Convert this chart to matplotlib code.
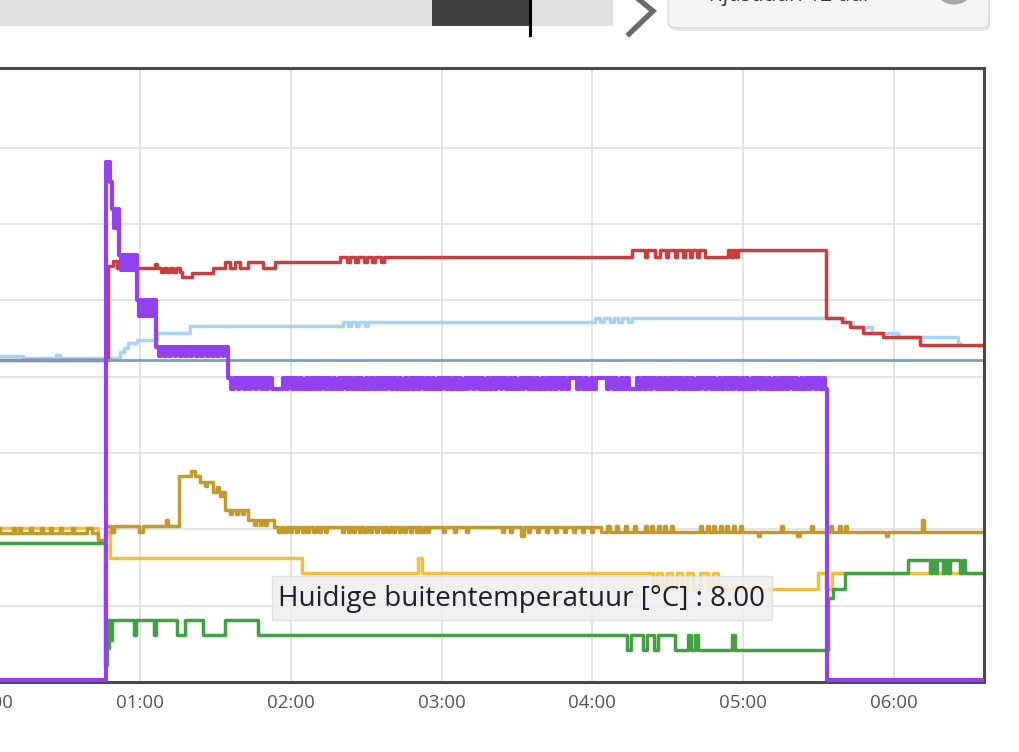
import matplotlib
matplotlib.use("Agg")
import matplotlib.pyplot as plt
from matplotlib.patches import Rectangle, FancyBboxPatch, Circle
from matplotlib.lines import Line2D

plt.rcParams['font.family'] = ['Open Sans', 'DejaVu Sans']

W, H = 1019, 752

# ---------------- data (x: minutes after 00:00, y: chart units, grid every 10) ----
tick_minutes = [0, 60, 120, 180, 240, 300, 360]
tick_labels = ["00:00", "01:00", "02:00", "03:00", "04:00", "05:00", "06:00"]
x_start, x_end = -11.6, 395.8

steel_t = [-12, 396]
steel_v = [42.2, 42.2]

red_t = [-12, 47.3, 49.3, 50.9, 76.7, 80.7, 89.1, 93.8, 95.8, 97.8, 99.8, 103.0, 109.0,
         113.7, 139.6, 255.8, 284.8, 294.0, 333.0, 339.4, 342.5, 347.7, 355.6, 370.4]
red_v = [42.2, 54.5, 55.2, 54.3, 53.1, 53.6, 54.3, 55.0, 54.3, 55.0, 54.3, 55.0, 54.3,
         55.0, 55.7, 56.6, 55.7, 56.6, 47.7, 47.2, 46.5, 45.7, 45.2, 44.2]
red_blips = [(66.0, 66.8, 54.8), (68.4, 69.6, 53.7), (70.7, 71.9, 53.7), (73.1, 74.3, 53.7),
             (75.9, 76.7, 53.7), (142.4, 143.6, 55.0), (145.6, 146.8, 55.0), (149.1, 150.3, 55.0),
             (152.3, 153.5, 55.0), (155.9, 157.1, 55.0), (260.9, 261.7, 55.7), (264.9, 266.9, 55.7),
             (269.3, 270.1, 55.7), (272.9, 273.7, 55.7), (276.1, 276.9, 55.7), (278.9, 279.6, 55.7),
             (281.6, 282.4, 55.7), (295.2, 296.0, 55.7), (297.2, 297.9, 55.7)]
red_end = 396

lblue_t = [-12, 13.5, 52.0, 53.6, 55.2, 58.8, 66.8, 79.9, 140.8, 241.1, 340.5, 343.7,
           351.3, 361.6, 385.5]
lblue_v = [42.7, 42.4, 43.3, 43.8, 44.4, 44.8, 45.7, 46.7, 47.2, 47.7, 47.2, 46.5,
           45.7, 45.2, 44.4]
lblue_blips = [(26.6, 28.2, 42.8), (142.8, 144.0, 46.7), (146.0, 147.2, 46.7), (149.5, 150.7, 46.7),
               (243.0, 244.6, 47.2), (247.0, 248.6, 47.2), (250.2, 251.8, 47.2), (254.2, 255.8, 47.2)]
lblue_end = 386.3

gold_t = [-12, 43.3, 46.3, 75.6, 80.5, 81.9, 83.9, 88.9, 93.8, 103.0, 113.5, 243.5]
gold_v = [19.5, 18.6, 20.4, 27.0, 27.6, 27.0, 26.2, 24.9, 22.6, 21.2, 20.3, 19.7]
gold_blips = [(0.5, 4.5, 20.2), (9.5, 10.3, 20.2), (12.0, 12.8, 20.2), (16.2, 17.0, 20.2),
              (20.5, 21.3, 20.2), (24.4, 25.2, 20.2), (28.0, 28.8, 20.2), (33.0, 33.8, 20.2),
              (39.0, 41.0, 20.2), (48.5, 49.5, 19.6), (59.6, 61.2, 19.6), (70.3, 71.1, 21.2),
              (85.8, 86.8, 25.7), (90.5, 91.3, 25.5), (92.0, 92.8, 24.4), (96.0, 96.8, 22.0),
              (98.4, 99.2, 22.0), (100.6, 101.4, 22.0), (105.3, 106.1, 20.6), (107.6, 108.4, 20.6),
              (109.8, 110.6, 20.6),
              (115.0, 116.0, 19.6), (117.5, 118.3, 19.6), (119.8, 120.6, 19.6), (122.0, 123.0, 19.6),
              (124.3, 125.1, 19.6), (126.6, 127.4, 19.6), (129.0, 129.9, 19.6), (131.2, 132.0, 19.6),
              (133.5, 134.3, 19.6), (140.5, 141.3, 19.6), (142.6, 143.6, 19.6), (144.9, 145.7, 19.6),
              (147.1, 148.0, 19.6), (149.3, 150.2, 19.6), (151.6, 152.4, 19.6), (153.8, 154.8, 19.6),
              (156.1, 156.9, 19.6), (158.4, 159.3, 19.6), (160.6, 161.5, 19.6), (162.9, 163.8, 19.6),
              (165.2, 166.0, 19.6), (167.4, 168.4, 19.6), (169.8, 170.6, 19.6), (172.0, 172.9, 19.6),
              (174.2, 175.1, 19.6), (180.5, 181.3, 19.6), (185.0, 185.8, 19.6), (189.6, 190.4, 19.6),
              (204.0, 204.8, 19.6), (207.2, 208.0, 19.6), (211.5, 212.6, 19.1), (214.3, 215.1, 19.6),
              (218.0, 218.8, 19.6), (221.6, 222.5, 19.6), (225.0, 225.9, 19.6), (228.7, 229.5, 19.6),
              (232.3, 233.2, 19.6), (235.9, 236.7, 19.6), (239.5, 240.4, 19.6),
              (246.0, 246.9, 20.4), (249.5, 250.3, 20.4), (253.0, 253.8, 20.4), (256.4, 257.3, 20.4),
              (261.0, 261.8, 20.4), (263.5, 264.3, 20.4), (266.0, 266.9, 20.4), (268.5, 269.4, 20.4),
              (271.2, 272.0, 20.4), (283.0, 283.8, 20.4), (285.5, 286.3, 20.4), (288.0, 288.9, 20.4),
              (290.6, 291.4, 20.4), (293.2, 294.0, 20.4), (296.0, 296.8, 20.4), (298.8, 299.6, 20.4),
              (305.8, 306.6, 19.1), (315.0, 315.8, 20.4), (321.6, 322.4, 19.1), (327.0, 327.8, 20.4),
              (334.6, 335.4, 20.4), (338.0, 338.8, 20.4), (340.5, 341.3, 20.4), (357.0, 357.8, 19.1),
              (371.0, 371.8, 21.2)]
gold_end = 396

yellow_t = [-12, 43.3, 46.1, 48.1, 124.5, 264.1, 329.8, 333.0, 335.4]
yellow_v = [20.2, 18.6, 19.6, 16.3, 14.3, 12.2, 14.3, 12.2, 14.3]
yellow_blips = [(170.6, 172.2, 16.3), (265.7, 267.7, 14.3), (269.7, 271.7, 14.3), (273.7, 275.7, 14.3),
                (277.7, 280.1, 14.3), (282.8, 286.0, 14.3), (288.0, 290.0, 14.3)]
yellow_end = 396

green_t = [-12, 46.1, 46.9, 47.3, 47.7, 48.1, 48.7, 74.7, 77.9, 85.1, 93.8, 107.0, 272.9,
           333.8, 335.8, 340.5, 365.6, 388.3]
green_v = [18.2, 2.2, 8.1, 4.5, 8.1, 5.5, 8.1, 6.2, 8.1, 6.2, 8.1, 6.2, 4.2,
           11.0, 12.2, 14.3, 16.0, 14.3]
green_blips = [(57.6, 58.4, 6.2), (65.6, 66.4, 6.2), (253.8, 255.4, 4.2), (260.2, 261.8, 4.2),
               (264.5, 266.1, 4.2), (278.1, 279.3, 6.2), (280.9, 282.1, 6.2), (295.6, 296.8, 6.2),
               (374.3, 375.1, 14.3), (376.3, 377.1, 14.3), (379.5, 380.3, 14.3), (381.5, 382.3, 14.3),
               (386.3, 387.5, 14.3)]
green_end = 396

purple_head_t = [-12, 46.5, 48.1, 48.9, 49.7, 50.1, 50.9, 51.3, 51.7]
purple_head_v = [0.3, 68.2, 65.5, 62.0, 59.5, 62.0, 59.5, 62.0, 56.0]
purple_osc1 = [52.5, 53.3, 54.1, 54.9, 55.7, 56.5, 57.3, 58.1]
purple_osc1_levels = (54.0, 56.0)
purple_osc2 = [58.8, 59.6, 60.4, 61.2, 62.0, 62.8, 63.6, 64.4, 65.2]
purple_osc2_levels = (50.1, 48.0)
purple_osc3 = [66.4, 67.6, 68.4, 69.5, 70.3, 71.6, 72.4, 73.8, 74.5, 75.9, 76.6, 77.8, 78.9,
               80.1, 80.8, 82.2, 83.0, 84.3, 85.1, 86.6, 87.3, 88.5, 89.6, 90.8, 91.5, 92.9, 93.6]
purple_osc3_levels = (43.9, 42.7)
purple_osc4 = [95.0, 96.4, 97.3, 98.9, 99.6, 101.2, 102.0, 103.3, 104.3, 105.8, 106.5, 108.0,
               108.9, 110.2, 111.0, 112.6, 117.0, 118.1, 118.9, 120.4, 121.2, 122.5, 123.6,
               124.4, 125.9, 126.7, 128.0, 129.1, 130.0, 131.3, 132.2, 133.6, 134.4, 135.8,
               136.9, 137.7, 139.0, 140.1, 140.8, 142.3, 143.1, 144.5, 145.4, 146.6, 147.7,
               148.5, 149.9, 150.8, 152.1, 153.0, 154.3, 155.5, 156.2, 157.6, 158.4, 159.9,
               160.7, 162.0, 163.1, 163.9, 165.4, 166.1, 167.5, 168.6, 169.3, 170.8, 171.6,
               172.9, 174.0, 174.8, 176.2, 177.0, 178.4, 179.5, 180.2, 181.7, 182.5, 183.8,
               184.9, 185.7, 187.1, 187.9, 189.2, 190.4, 191.1, 192.6, 193.3, 194.7, 195.8,
               196.6, 198.0, 198.8, 200.1, 201.3, 202.0, 203.5, 204.2, 205.6, 206.7, 207.5,
               208.9, 209.7, 211.0, 212.2, 212.9, 214.3, 215.1, 216.5, 217.6, 218.4, 219.8,
               220.6, 221.9, 223.1, 223.8, 225.2, 226.0, 227.4, 228.5, 229.3, 230.7, 233.9,
               234.7, 236.0, 237.2, 237.9, 239.3, 240.1, 241.5, 245.8, 246.6, 248.0, 249.1,
               249.9, 251.3, 252.1, 253.5, 254.6, 257.6, 258.4, 259.8, 260.9, 261.7, 263.0,
               263.9, 265.2, 266.3, 267.1, 268.5, 269.3, 270.6, 271.8, 272.5, 273.9, 274.7,
               276.1, 277.2, 278.0, 279.4, 280.2, 281.5, 282.7, 283.4, 284.8, 285.6, 287.0,
               288.1, 288.9, 290.3, 291.1, 292.4, 293.6, 294.3, 295.7, 296.5, 297.9, 299.0,
               299.8, 301.2, 302.0, 303.3, 304.5, 305.2, 306.6, 307.4, 308.8, 309.9, 310.7,
               312.1, 312.9, 314.2, 315.4, 316.1, 317.5, 318.3, 319.7, 320.8, 321.6, 323.0,
               323.8, 325.1, 326.3, 327.0, 328.4, 329.2, 330.6, 331.7, 332.5]
purple_osc4_levels = (39.8, 38.4)
purple_tail_t = [333.4]
purple_tail_v = [0.3]
purple_end = 396

tooltip_text = "Huidige buitentemperatuur [°C] : 8.00"
range_button_text = "Tijdsduur: 12 uur"


# ---------------- helpers ----------------
def value_at(ts, vs, t):
    cur = vs[0]
    for tt, vv in zip(ts, vs):
        if tt <= t:
            cur = vv
    return cur


def with_blips(ts, vs, blips):
    pts = list(zip(ts, vs))
    for t0, t1, val in blips:
        pts.append((t0, val))
        pts.append((t1, value_at(ts, vs, t1)))
    pts.sort(key=lambda p: p[0])
    return [p[0] for p in pts], [p[1] for p in pts]


def toggles(times, levels):
    vs = [levels[i % 2] for i in range(len(times))]
    return list(times), vs


def close(ts, vs, end):
    return ts + [end], vs + [vs[-1]]


# ---------------- figure ----------------
fig = plt.figure(figsize=(W / 100, H / 100), dpi=100)
fig.patch.set_facecolor("white")

def fx(x):
    return x / W

def fy(y):
    return 1 - y / H

ax_left_px, ax_right_px, ax_top_px, ax_bot_px = -40, 984, 68, 682
ax = fig.add_axes([fx(ax_left_px), fy(ax_bot_px), (ax_right_px - ax_left_px) / W,
                   (ax_bot_px - ax_top_px) / H])
ax.set_xlim(x_start, x_end)
ax.set_ylim(0, 80.47)

ax.set_xticks(tick_minutes)
ax.set_xticklabels(tick_labels)
ax.set_yticks([10, 20, 30, 40, 50, 60, 70])
ax.tick_params(axis='y', left=False, labelleft=False)
ax.tick_params(axis='x', length=0, pad=9, labelsize=13.5, labelcolor='#555555')
ax.grid(True, color='#dcdcdc', linewidth=1.1)
ax.set_axisbelow(True)
for side in ['top', 'right', 'bottom']:
    ax.spines[side].set_color('#4a4a4a')
    ax.spines[side].set_linewidth(2.2)
ax.spines['left'].set_visible(False)

lw = 2.5
t, v = close(*with_blips(yellow_t, yellow_v, yellow_blips), yellow_end)
ax.step(t, v, where='post', color='#f0c13a', lw=lw, zorder=2.0)
t, v = close(*with_blips(gold_t, gold_v, gold_blips), gold_end)
ax.step(t, v, where='post', color='#c29b2e', lw=lw, zorder=2.1)
t, v = close(*with_blips(green_t, green_v, green_blips), green_end)
ax.step(t, v, where='post', color='#43a043', lw=lw, zorder=2.2)
t, v = close(*with_blips(lblue_t, lblue_v, lblue_blips), lblue_end)
ax.step(t, v, where='post', color='#a7d3f4', lw=lw, zorder=2.3)
t, v = close(*with_blips(red_t, red_v, red_blips), red_end)
ax.step(t, v, where='post', color='#cc3d3d', lw=lw, zorder=2.4)
ax.plot(steel_t, steel_v, color='#7a9ec2', lw=2.0, zorder=2.5)

pt, pv = list(purple_head_t), list(purple_head_v)
for seg, lev in [(purple_osc1, purple_osc1_levels), (purple_osc2, purple_osc2_levels),
                 (purple_osc3, purple_osc3_levels), (purple_osc4, purple_osc4_levels)]:
    a, b = toggles(seg, lev)
    pt += a
    pv += b
pt += purple_tail_t
pv += purple_tail_v
pt, pv = close(pt, pv, purple_end)
ax.step(pt, pv, where='post', color='#9241f0', lw=3.0, zorder=3)

# tooltip box
fig.add_artist(Rectangle((fx(272), fy(620)), (772 - 272) / W, (620 - 576) / H,
                         transform=fig.transFigure, facecolor='#eeeeee', alpha=0.88,
                         edgecolor='#dddddd', lw=1, zorder=5))
fig.text(fx(278), fy(599), tooltip_text, fontsize=20, color='#1f1f2a',
         va='center', ha='left', zorder=6)

# top UI: range selector bar
fig.add_artist(Rectangle((fx(0), fy(26)), 613 / W, 26 / H, transform=fig.transFigure,
                         facecolor='#e0e0e0', edgecolor='none'))
fig.add_artist(Rectangle((fx(432), fy(26)), 98 / W, 26 / H, transform=fig.transFigure,
                         facecolor='#404040', edgecolor='none'))
fig.add_artist(Line2D([fx(530), fx(530)], [fy(0), fy(35)], transform=fig.transFigure,
                      color='black', lw=2.2))
fig.add_artist(Line2D([fx(637), fx(653), fx(629)], [fy(-2), fy(11), fy(34)],
                      transform=fig.transFigure, color='#6b6b6b', lw=3.8,
                      solid_joinstyle='miter'))
# button
fig.add_artist(FancyBboxPatch((fx(670), fy(31)), 320 / W, 40 / H,
                              boxstyle='round,pad=0,rounding_size=0.008',
                              transform=fig.transFigure, facecolor='#d6d6d6',
                              edgecolor='none', alpha=0.6))
fig.add_artist(FancyBboxPatch((fx(668), fy(28)), 321 / W, 40 / H,
                              boxstyle='round,pad=0,rounding_size=0.008',
                              transform=fig.transFigure, facecolor='#f4f4f4',
                              edgecolor='#dadada', lw=1))
fig.add_artist(Circle((fx(954), fy(-8)), 17 / W, transform=fig.transFigure,
                      facecolor='#a8a8a8', edgecolor='none'))
fig.text(fx(706), fy(1), range_button_text, fontsize=15, color='#333333',
         va='baseline', ha='left')

fig.savefig("out.png", dpi=100)
